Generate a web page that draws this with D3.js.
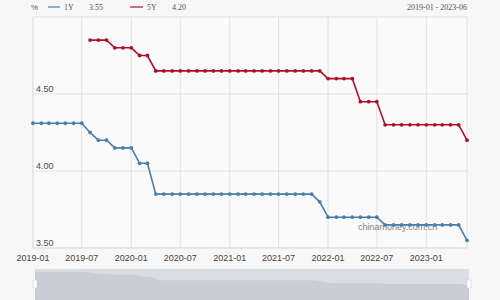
<!DOCTYPE html>
<html>
  <head>
    <title>LPR 1Y / 5Y</title>
    <script src="https://d3js.org/d3.v7.min.js"></script>
    <style>
      body { margin: 0; background: #f7f7f7; }
      svg { display: block; font-family: "Liberation Sans", Arial, sans-serif; }
    </style>
  </head>
  <body>
    <svg width="500" height="300"></svg>
    <script>
      // data: monthly, 2019-01 .. 2023-06
      var months = d3.timeMonths(new Date(2019, 0, 1), new Date(2023, 6, 1));
      var oneY = [4.31, 4.31, 4.31, 4.31, 4.31, 4.31, 4.31, 4.25, 4.20, 4.20, 4.15, 4.15,
        4.15, 4.05, 4.05, 3.85, 3.85, 3.85, 3.85, 3.85, 3.85, 3.85, 3.85, 3.85,
        3.85, 3.85, 3.85, 3.85, 3.85, 3.85, 3.85, 3.85, 3.85, 3.85, 3.85, 3.80,
        3.70, 3.70, 3.70, 3.70, 3.70, 3.70, 3.70, 3.65, 3.65, 3.65, 3.65, 3.65,
        3.65, 3.65, 3.65, 3.65, 3.65, 3.55];
      var fiveY = [null, null, null, null, null, null, null, 4.85, 4.85, 4.85, 4.80, 4.80,
        4.80, 4.75, 4.75, 4.65, 4.65, 4.65, 4.65, 4.65, 4.65, 4.65, 4.65, 4.65,
        4.65, 4.65, 4.65, 4.65, 4.65, 4.65, 4.65, 4.65, 4.65, 4.65, 4.65, 4.65,
        4.60, 4.60, 4.60, 4.60, 4.45, 4.45, 4.45, 4.30, 4.30, 4.30, 4.30, 4.30,
        4.30, 4.30, 4.30, 4.30, 4.30, 4.20];
      var yTicks = [3.5, 4.0, 4.5];
      var xTicks = ["2019-01", "2019-07", "2020-01", "2020-07", "2021-01", "2021-07", "2022-01", "2022-07", "2023-01"];

      var svg = d3.select("svg");
      var blue = "#4a7fa8", red = "#b0102a";
      var parse = d3.timeParse("%Y-%m");

      var x = d3.scaleTime()
        .domain([months[0], months[months.length - 1]])
        .range([33, 467]);
      var y = d3.scaleLinear().domain([3.5, 5.0]).range([248, 17]);

      // plot background
      svg.append("rect").attr("x", 33).attr("y", 17).attr("width", 434).attr("height", 231)
        .attr("fill", "#fafafa").attr("stroke", "#e2e2e2");

      // vertical grid
      svg.append("g").selectAll("line").data(xTicks).join("line")
        .attr("x1", d => x(parse(d))).attr("x2", d => x(parse(d)))
        .attr("y1", 17).attr("y2", 248)
        .attr("stroke", "#e2e2e2");

      // horizontal grid + labels
      svg.append("g").selectAll("line").data(yTicks).join("line")
        .attr("x1", 33).attr("x2", 467)
        .attr("y1", d => y(d)).attr("y2", d => y(d))
        .attr("stroke", "#e2e2e2");
      svg.append("g").selectAll("text").data(yTicks).join("text")
        .attr("x", 36).attr("y", d => y(d) - 2)
        .attr("font-size", 9).attr("fill", "#4a4a4a")
        .text(d => d3.format(".2f")(d));

      // x tick labels
      svg.append("g").selectAll("text").data(xTicks).join("text")
        .attr("x", d => x(parse(d))).attr("y", 261)
        .attr("text-anchor", "middle")
        .attr("font-size", 9).attr("fill", "#444")
        .text(d => d);

      // watermark
      svg.append("text").attr("x", 358).attr("y", 230)
        .attr("font-size", 9).attr("fill", "#666").attr("opacity", 0.8)
        .text("chinamoney.com.cn");

      // series
      function drawSeries(vals, color) {
        var pts = months.map((m, i) => ({ m: m, v: vals[i] })).filter(d => d.v != null);
        svg.append("path").datum(pts)
          .attr("fill", "none").attr("stroke", color).attr("stroke-width", 1.6)
          .attr("d", d3.line().x(d => x(d.m)).y(d => y(d.v)));
        svg.append("g").selectAll("circle").data(pts).join("circle")
          .attr("cx", d => x(d.m)).attr("cy", d => y(d.v)).attr("r", 1.9)
          .attr("fill", color);
      }
      drawSeries(oneY, blue);
      drawSeries(fiveY, red);

      // header
      var head = svg.append("g").attr("font-family", "Liberation Serif, serif").attr("font-size", 8).attr("fill", "#555");
      head.append("text").attr("x", 31).attr("y", 10).attr("font-family", "Liberation Sans, sans-serif").text("%");
      head.append("line").attr("x1", 48).attr("x2", 60).attr("y1", 7).attr("y2", 7).attr("stroke", blue).attr("stroke-width", 1.2);
      head.append("text").attr("x", 64).attr("y", 10).text("1Y");
      head.append("text").attr("x", 89).attr("y", 10).text(oneY[oneY.length - 1].toFixed(2));
      head.append("line").attr("x1", 130).attr("x2", 143).attr("y1", 7).attr("y2", 7).attr("stroke", red).attr("stroke-width", 1.2);
      head.append("text").attr("x", 147).attr("y", 10).text("5Y");
      head.append("text").attr("x", 172).attr("y", 10).text(fiveY[fiveY.length - 1].toFixed(2));
      head.append("text").attr("x", 467).attr("y", 10).attr("text-anchor", "end").text("2019-01 - 2023-06");

      // data zoom slider
      var sy = d3.scaleLinear().domain([3.4, 5.0]).range([300, 270]);
      svg.append("rect").attr("x", 35).attr("y", 269).attr("width", 434).attr("height", 31).attr("fill", "#d9dde6");
      svg.append("path").datum(months.map((m, i) => ({ m: m, v: oneY[i] })))
        .attr("fill", "#c8cdd8")
        .attr("d", d3.area().x(d => x(d.m) + 2).y0(300).y1(d => sy(d.v + 0.6)));
      svg.append("rect").attr("x", 33).attr("y", 280).attr("width", 4).attr("height", 8).attr("fill", "#fff").attr("stroke", "#ccc").attr("stroke-width", 0.5);
      svg.append("rect").attr("x", 467).attr("y", 280).attr("width", 4).attr("height", 8).attr("fill", "#fff").attr("stroke", "#ccc").attr("stroke-width", 0.5);
    </script>
  </body>
</html>
